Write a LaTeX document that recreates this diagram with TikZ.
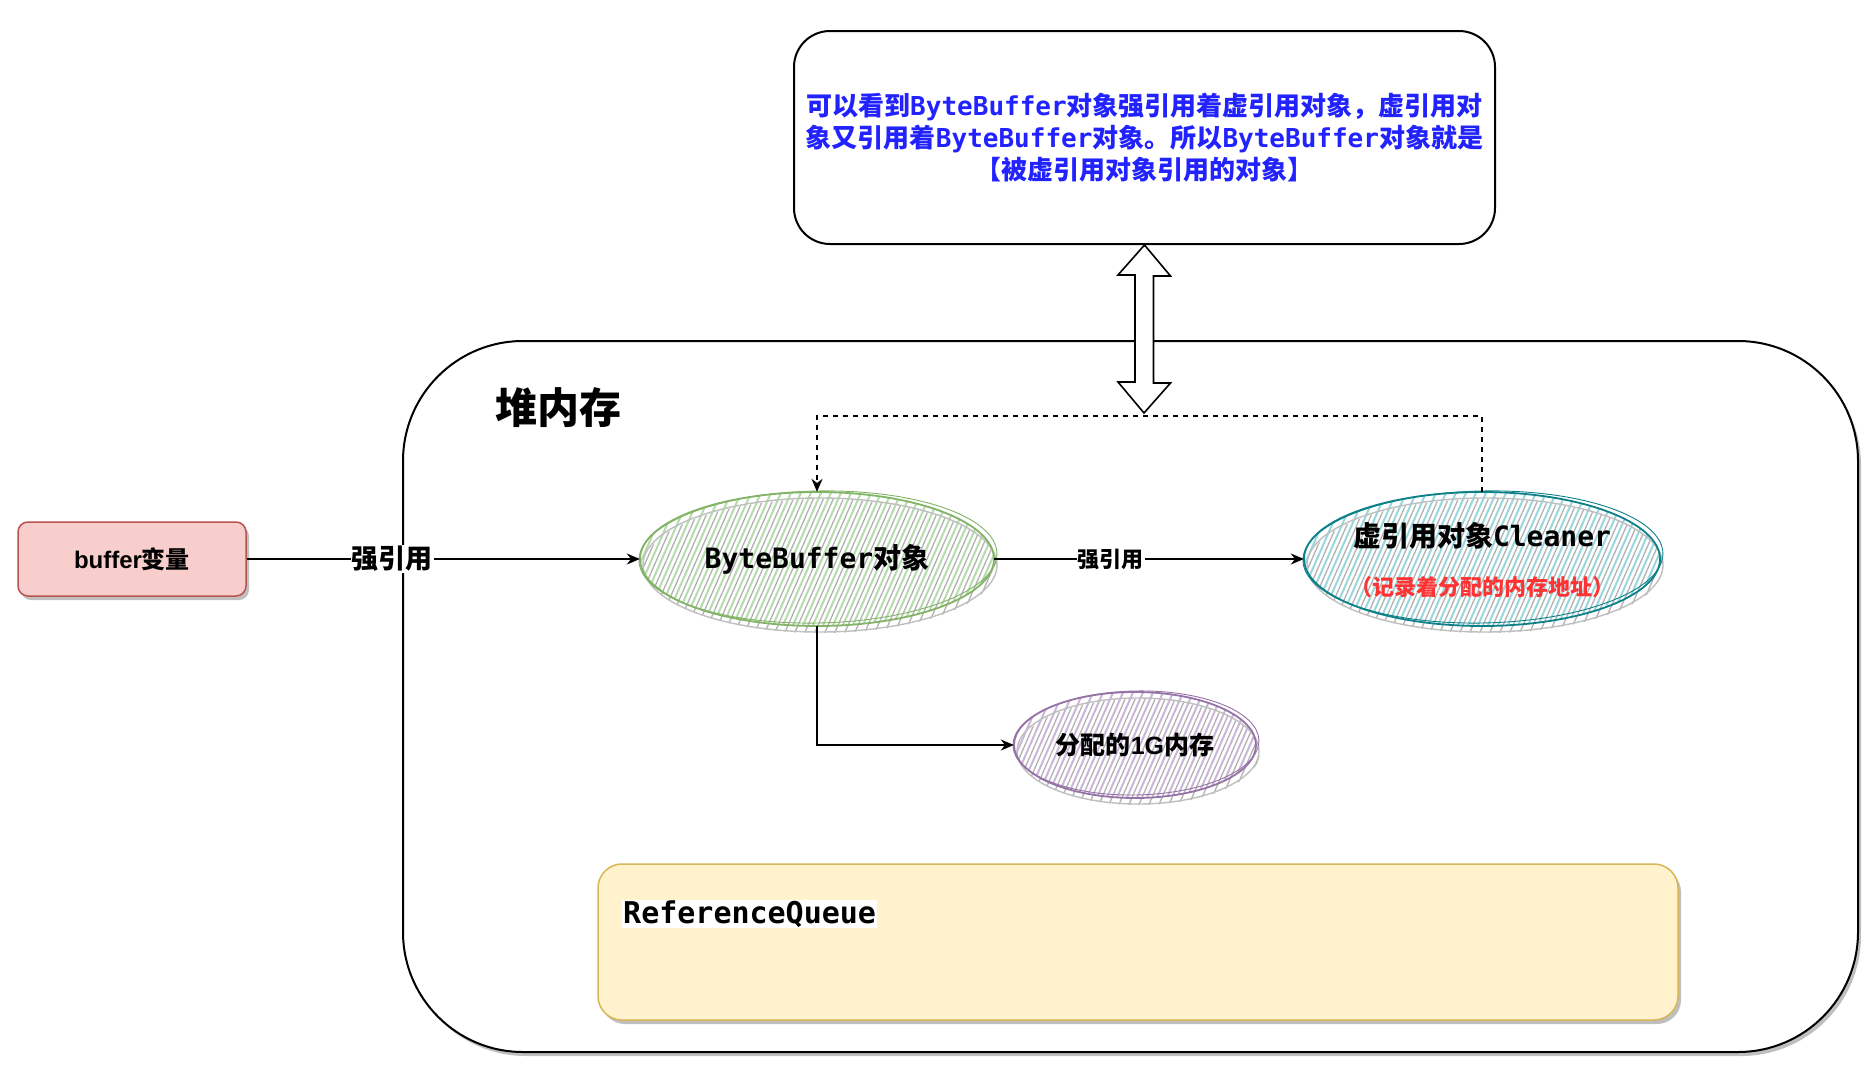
\documentclass[tikz,border=0pt]{standalone}
\usepackage{fontspec}
\setmainfont{Liberation Sans}
\newfontfamily\cjkfam{Noto Sans CJK SC}
\newfontfamily\monofam{DejaVu Sans Mono}
\usetikzlibrary{shapes.geometric,shadows,arrows.meta}
\definecolor{topblue}{RGB}{34,34,255}
\definecolor{redtxt}{RGB}{255,51,51}
\definecolor{bufFill}{HTML}{F8CECC}
\definecolor{bufLine}{HTML}{B85450}
\definecolor{qFill}{HTML}{FFF2CC}
\definecolor{qLine}{HTML}{D6B656}
\definecolor{gLine}{HTML}{82B366}
\definecolor{gHatch}{HTML}{B5DCAB}
\definecolor{tLine}{HTML}{0E8088}
\definecolor{tHatch}{HTML}{98D8DD}
\definecolor{pLine}{HTML}{9673A6}
\definecolor{pHatch}{HTML}{CBB6DA}
\newcommand\zhtxt[1]{{\cjkfam\bfseries #1}}
\newcommand\motxt[1]{{\monofam\bfseries #1}}
% #1 node name, #2 rx, #3 ry, #4 hatch colour, #5 stroke colour
\newcommand\sketchell[5]{%
  \begin{scope}[shift={(#1.center)}]
    \begin{scope}
      \clip (4,7) ellipse [x radius=#2, y radius=#3];
      \foreach \k in {-40,...,40} \draw[gray!60, line width=1.3pt] (\k*10-70,160) -- (\k*10+70,-160);
    \end{scope}
    \begin{scope}
      \clip (0,0) ellipse [x radius=#2, y radius=#3];
      \foreach \k in {-40,...,40} \draw[#4, line width=2pt] (\k*10-65,160) -- (\k*10+75,-160);
    \end{scope}
    \draw[gray!50, line width=1.4pt] (3,6) ellipse [x radius=#2, y radius=#3];
    \draw[#5, line width=1.8pt] (0,0) ellipse [x radius=#2, y radius=#3];
    \draw[#5, line width=0.9pt, rotate=1.2] (1,-2) ellipse [x radius=#2+2, y radius=#3-1];
  \end{scope}}
\begin{document}
\begin{tikzpicture}[x=1pt, y=-1pt,
  conn/.style={line width=1.8pt, -{Stealth[length=13pt,width=11pt]}},
  shade/.style={drop shadow={shadow xshift=3pt, shadow yshift=-4pt, fill=black, opacity=0.25}},
  ellnode/.style={ellipse, draw=none, inner sep=0pt},
  lab/.style={fill=white, inner sep=1pt}]
\fill[white] (0,0) rectangle (1872,1082);
\useasboundingbox (0,0) rectangle (1872,1082);

% top note
\node[draw, line width=2pt, rounded corners=36pt, minimum width=701pt, minimum height=213pt,
      align=center, text=topblue, font=\fontsize{26}{32}\selectfont] (note) at (1144.5,137.5)
  {\zhtxt{可以看到}\motxt{ByteBuffer}\zhtxt{对象强引用着虚引用对象，虚引用对}\\
   \zhtxt{象又引用着}\motxt{ByteBuffer}\zhtxt{对象。所以}\motxt{ByteBuffer}\zhtxt{对象就是}\\
   \zhtxt{【被虚引用对象引用的对象】}};

% heap container
\node[draw, line width=2pt, rounded corners=120pt, fill=white, shade,
      minimum width=1455pt, minimum height=711pt] (heap) at (1130.5,696.5) {};
\node[font=\fontsize{42}{48}\selectfont] (heaplab) at (558,408) {\zhtxt{堆内存}};

% double arrow
\coordinate (dtop) at (note.south);
\coordinate (dbot) at (1144,413);
\draw[line width=1.6pt, fill=white, line join=miter]
  (dtop) -- ++(26,31) -- ++(-17,0) -- ++(0,107) -- ++(17,0) -- (dbot)
  -- ++(-26,-31) -- ++(17,0) -- ++(0,-107) -- ++(-17,0) -- cycle;

% buffer variable
\node[draw=bufLine, fill=bufFill, line width=1.5pt, rounded corners=10pt, shade,
      minimum width=228pt, minimum height=74pt, font=\fontsize{24}{28}\selectfont] (buf) at (132,559)
  {\textbf{buffer}\zhtxt{变量}};

% reference queue
\node[draw=qLine, fill=qFill, line width=1.5pt, rounded corners=24pt, shade,
      minimum width=1080pt, minimum height=156pt] (queue) at (1138,942) {};
\node[anchor=west, fill=white, inner sep=1pt, font=\fontsize{30}{34}\selectfont] (qlab) at (622,914)
  {\motxt{ReferenceQueue}};

% ellipses
\node[ellnode, minimum width=354pt, minimum height=134pt] (bb) at (817,559) {};
\sketchell{bb}{177}{67}{gHatch}{gLine}
\node[font=\fontsize{28}{32}\selectfont] (bbt) at (bb.center) {\motxt{ByteBuffer}\zhtxt{对象}};

\node[ellnode, minimum width=356pt, minimum height=134pt] (cl) at (1482,559) {};
\sketchell{cl}{178}{67}{tHatch}{tLine}
\node[font=\fontsize{28}{32}\selectfont] (clt) at (1482,536) {\zhtxt{虚引用对象}\motxt{Cleaner}};
\node[font=\fontsize{22}{26}\selectfont, text=redtxt] (clt2) at (1482,587) {\zhtxt{（记录着分配的内存地址）}};

\node[ellnode, minimum width=242pt, minimum height=106pt] (mem) at (1135,745) {};
\sketchell{mem}{121}{53}{pHatch}{pLine}
\node[font=\fontsize{25}{30}\selectfont] (memt) at (mem.center) {\zhtxt{分配的}\textbf{1G}\zhtxt{内存}};

% connectors
\draw[conn] (buf.east) -- node[lab, pos=0.37, font=\fontsize{27}{30}\selectfont] {\zhtxt{强引用}} (bb.west);
\draw[conn] (bb.east) -- node[lab, pos=0.377, font=\fontsize{22}{26}\selectfont] {\zhtxt{强引用}} (cl.west);
\draw[conn] (bb.south) |- (mem.west);
\draw[line width=1.5pt, dash pattern=on 5pt off 5pt, -{Stealth[length=13pt,width=11pt]}]
  (cl.north) -- ++(0,-76) -| (bb.north);
\end{tikzpicture}
\end{document}
